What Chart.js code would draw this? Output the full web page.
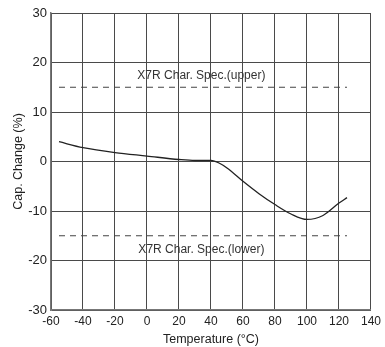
<!DOCTYPE html>
<html>
<head>
<meta charset="utf-8">
<script src="https://cdn.jsdelivr.net/npm/chart.js@4/dist/chart.umd.min.js"></script>
<style>
  html, body { margin: 0; padding: 0; background: #fff; }
  #wrap { width: 385px; height: 347px; }
</style>
</head>
<body>
<div id="wrap"><canvas id="capChart" width="385" height="347"></canvas></div>
<script>
// Temperature characteristic
const temps = [-55, -40, -20, 0, 20, 30, 40, 45, 50, 60, 70, 80, 90, 100, 110, 120, 125];
const capChange = [4.0, 2.8, 1.8, 1.1, 0.4, 0.2, 0.2, -0.3, -1.3, -4.0, -6.5, -8.7, -10.6, -11.7, -10.9, -8.4, -7.3];

// X7R spec limits
const specX = [-55, 125];
const specUpper = [15, 15];
const specLower = [-15, -15];
const specLabels = ['X7R Char. Spec.(upper)', 'X7R Char. Spec.(lower)'];
const specLabelPos = [[34, 17.3], [34, -17.9]];

const xTicks = [-60, -40, -20, 0, 20, 40, 60, 80, 100, 120, 140];
const yTicks = [-30, -20, -10, 0, 10, 20, 30];

const textFont = 'Liberation Sans, Arial, sans-serif';

// writes the spec captions
const specText = {
  id: 'specText',
  afterDatasetsDraw(chart) {
    const ctx = chart.ctx;
    const xs = chart.scales.x, ys = chart.scales.y;
    ctx.save();
    ctx.font = '12px ' + textFont;
    ctx.fillStyle = '#333';
    ctx.textAlign = 'center';
    ctx.textBaseline = 'middle';
    specLabels.forEach((t, i) => {
      const p = specLabelPos[i];
      ctx.fillText(t, xs.getPixelForValue(p[0]), ys.getPixelForValue(p[1]));
    });
    ctx.restore();
  }
};

const capChart = new Chart(document.getElementById('capChart'), {
  type: 'line',
  data: {
    datasets: [
      {
        data: temps.map((t, i) => ({ x: t, y: capChange[i] })),
        borderColor: '#222',
        borderWidth: 1.3,
        pointRadius: 0,
        cubicInterpolationMode: 'monotone',
      },
      {
        data: specX.map((t, i) => ({ x: t, y: specUpper[i] })),
        borderColor: '#444',
        borderWidth: 1.2,
        borderDash: [6, 5],
        pointRadius: 0,
      },
      {
        data: specX.map((t, i) => ({ x: t, y: specLower[i] })),
        borderColor: '#444',
        borderWidth: 1.2,
        borderDash: [6, 5],
        pointRadius: 0,
      }
    ]
  },
  options: {
    responsive: false,
    animation: false,
    layout: { padding: { left: 0, right: 11, top: 13, bottom: 0 } },
    plugins: {
      legend: { display: false },
      tooltip: { enabled: false },
    },
    scales: {
      x: {
        type: 'linear',
        min: -60,
        max: 140,
        afterBuildTicks(axis) { axis.ticks = xTicks.map(v => ({ value: v })); },
        afterFit(axis) { axis.height = 37; },
        grid: { color: '#4a4a4a', lineWidth: 1, drawTicks: false },
        border: { color: '#777', width: 1.5 },
        ticks: { color: '#222', font: { size: 12, family: textFont }, padding: 4, maxRotation: 0 },
        title: {
          display: true,
          text: 'Temperature (°C)',
          color: '#222',
          font: { size: 12.5, family: textFont },
          padding: { top: 1, bottom: 0 },
        }
      },
      y: {
        min: -30,
        max: 30,
        afterBuildTicks(axis) { axis.ticks = yTicks.map(v => ({ value: v })); },
        afterFit(axis) { axis.width = 51; },
        grid: { color: '#4a4a4a', lineWidth: 1, drawTicks: false },
        border: { color: '#777', width: 1.5 },
        ticks: { color: '#222', font: { size: 13, family: textFont }, padding: 4 },
        title: {
          display: true,
          text: 'Cap. Change (%)',
          color: '#222',
          font: { size: 12.5, family: textFont },
          padding: { top: 11, bottom: 0 },
        }
      }
    }
  },
  plugins: [specText]
});
</script>
</body>
</html>
